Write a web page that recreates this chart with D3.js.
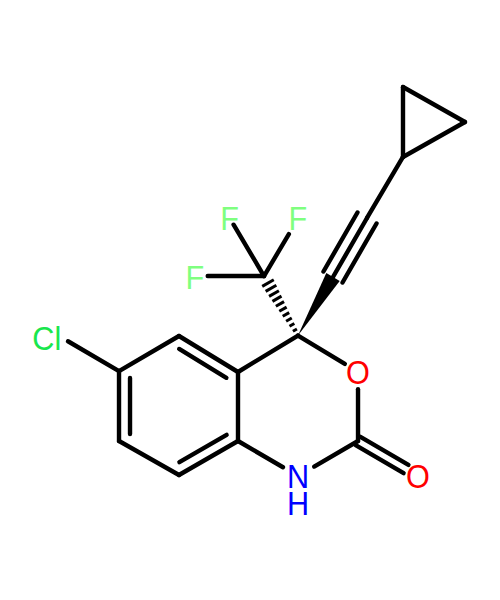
<!DOCTYPE html>
<html>
<head>
<meta charset="utf-8">
<script src="https://cdn.jsdelivr.net/npm/d3@7"></script>
<style>
  body { margin: 0; background: #fff; }
  svg { display: block; }
</style>
</head>
<body>
<script>
// atoms, in bond lengths from the ring fusion carbon
const atomNames = ["C4", "CF3", "F1", "F2", "F3", "Ca", "Cb", "Cp1", "Cp2", "Cp3", "C4a", "C5", "C6", "Cl", "C7", "C8", "C8a", "N", "C2", "O1", "O2"];
const atomX = [0.863, 0.374, -0.129, 0.878, -0.626, 1.367, 1.856, 2.374, 2.374, 3.266, 0, -0.849, -1.712, -2.576, -1.712, -0.849, 0, 0.863, 1.727, 1.727, 2.590];
const atomY = [0.525, 1.381, 2.230, 2.230, 1.381, 1.367, 2.216, 3.094, 4.101, 3.597, 0, 0.518, 0.014, 0.518, -0.993, -1.482, -0.993, -1.496, -0.993, 0, -1.496];

// from, to, kept part of the bond at each end
const singleBonds = [
  ["CF3", "F1", 0, 0.87], ["CF3", "F2", 0, 0.71], ["CF3", "F3", 0, 0.81],
  ["Ca", "Cb", 0, 1], ["Cb", "Cp1", 0, 1],
  ["Cp1", "Cp2", 0, 1], ["Cp2", "Cp3", 0, 1], ["Cp3", "Cp1", 0, 1],
  ["C4a", "C5", 0, 1], ["C5", "C6", 0, 1], ["C6", "C7", 0, 1], ["C7", "C8", 0, 1], ["C8", "C8a", 0, 1], ["C8a", "C4a", 0, 1],
  ["C6", "Cl", 0, 0.85], ["C4a", "C4", 0, 1], ["C4", "O1", 0, 0.78], ["O1", "C2", 0.25, 1],
  ["C2", "N", 0, 0.73], ["N", "C8a", 0.25, 1]
];
const ringDoubles = [["C6", "C7"], ["C4a", "C5"], ["C8", "C8a"]];
const ringAtoms = ["C4a", "C5", "C6", "C7", "C8", "C8a"];
const carbonyl = ["C2", "O2", 0, 0.8];
const alkyne = ["Ca", "Cb"];
const wedge = ["C4", "Ca"];
const hash = ["C4", "CF3"];

// N and H share one label, H on the line below
const labelText = [["F"], ["F"], ["F"], ["Cl"], ["O"], ["N", "H"], ["O"]];
const labelX = [-0.12, 0.863, -0.619, -2.752, 1.727, 0.863, 2.590];
const labelY = [2.22, 2.22, 1.367, 0.49, 0, -1.496, -1.496];
const labelColor = ["#7fff7f", "#7fff7f", "#7fff7f", "#19e64d", "#ff0000", "#0000ff", "#ff0000"];

const width = 500, height = 600;
const lineW = 4.4;
const x = d3.scaleLinear().domain([0, 1]).range([238, 307.5]);
const y = d3.scaleLinear().domain([0, 1]).range([372, 302.5]);

const svg = d3.select("body").append("svg").attr("width", width).attr("height", height);
svg.append("rect").attr("width", width).attr("height", height).attr("fill", "#fff");

function pos(name) {
  const i = atomNames.indexOf(name);
  return [x(atomX[i]), y(atomY[i])];
}

// segment between two atoms, cut to [t0, t1] and moved sideways by off pixels
function seg(a, b, t0, t1, off) {
  const p = pos(a), q = pos(b);
  const dx = q[0] - p[0], dy = q[1] - p[1], len = Math.hypot(dx, dy);
  const nx = -dy / len * off, ny = dx / len * off;
  return {
    x1: p[0] + dx * t0 + nx, y1: p[1] + dy * t0 + ny,
    x2: p[0] + dx * t1 + nx, y2: p[1] + dy * t1 + ny
  };
}

const ringCentre = [d3.mean(ringAtoms, a => pos(a)[0]), d3.mean(ringAtoms, a => pos(a)[1])];

function innerSeg(d) {
  const a = seg(d[0], d[1], 0.1, 0.9, 11), b = seg(d[0], d[1], 0.1, 0.9, -11);
  const da = Math.hypot(a.x1 - ringCentre[0], a.y1 - ringCentre[1]);
  const db = Math.hypot(b.x1 - ringCentre[0], b.y1 - ringCentre[1]);
  return da < db ? a : b;
}

const segs = singleBonds.map(d => seg(d[0], d[1], d[2], d[3], 0))
  .concat(ringDoubles.map(innerSeg))
  .concat([4.8, -4.8].map(o => seg(carbonyl[0], carbonyl[1], carbonyl[2], carbonyl[3], o)))
  .concat([11, -11].map(o => seg(alkyne[0], alkyne[1], 0, 1, o)));

svg.append("g").selectAll("line")
  .data(segs).enter()
  .append("line")
  .attr("x1", d => d.x1).attr("y1", d => d.y1)
  .attr("x2", d => d.x2).attr("y2", d => d.y2)
  .style("stroke", "black")
  .style("stroke-width", lineW)
  .style("stroke-linecap", "round");

// solid wedge, tip on the stereocentre
const w0 = pos(wedge[0]), w1 = seg(wedge[0], wedge[1], 1, 1, 7.8), w2 = seg(wedge[0], wedge[1], 1, 1, -7.8);
svg.append("path")
  .attr("d", d3.line()([w0, [w1.x1, w1.y1], [w2.x1, w2.y1]]) + "Z")
  .attr("fill", "black");

// hashed wedge, stripes widen towards the CF3 carbon
const stripes = d3.range(10).map(i => 0.09 + i * 0.088);
svg.append("g").selectAll("line")
  .data(stripes).enter()
  .append("line")
  .each(function (t) {
    const half = 1.8 + 5.5 * t;
    const a = seg(hash[0], hash[1], t, t, half), b = seg(hash[0], hash[1], t, t, -half);
    d3.select(this)
      .attr("x1", a.x1).attr("y1", a.y1)
      .attr("x2", b.x1).attr("y2", b.y1);
  })
  .style("stroke", "black")
  .style("stroke-width", 3);

const labels = svg.append("g").selectAll("text")
  .data(labelText).enter()
  .append("text")
  .attr("transform", (d, i) => `translate(${[x(labelX[i]), y(labelY[i])]}) scale(0.93,1)`)
  .attr("text-anchor", "middle")
  .style("font-family", "'Liberation Sans', sans-serif")
  .style("font-size", "33px")
  .style("fill", (d, i) => labelColor[i]);

labels.selectAll("tspan")
  .data(d => d).enter()
  .append("tspan")
  .attr("x", 0)
  .attr("y", (d, i) => 12 + i * 27.5)
  .text(d => d);
</script>
</body>
</html>
